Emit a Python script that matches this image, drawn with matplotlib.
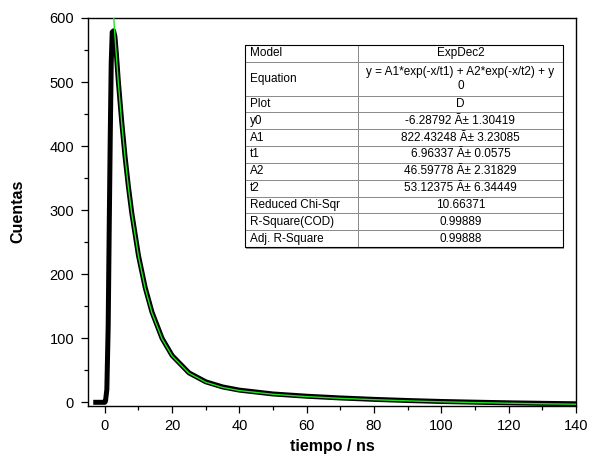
import matplotlib
matplotlib.use("Agg")
import matplotlib.pyplot as plt
from matplotlib.ticker import MultipleLocator
from matplotlib.table import Table
from matplotlib.patches import Rectangle

plt.rcParams["font.family"] = ["Liberation Sans", "DejaVu Sans"]

# ============================
# Data
# ============================
# measured decay (black)
t_data = [-2.7, -1.5, -0.5, 0.0, 0.2, 0.6, 1.0, 1.3, 1.6, 1.9, 2.2, 2.6, 3.0, 3.4,
          4.0, 5.0, 6.0, 7.0, 8.0, 10.0, 12.0, 14.0, 17.0, 20.0, 25.0, 30.0, 35.0,
          40.0, 50.0, 60.0, 70.0, 80.0, 90.0, 100.0, 110.0, 120.0, 130.0, 140.0]
counts_data = [0, 0, 0, 0, 2, 20, 120, 270, 410, 530, 578, 580, 571, 546,
               502, 439, 384, 337, 296, 229, 179, 141, 100, 73, 46, 32, 24,
               19, 13, 9.5, 6.8, 4.6, 2.8, 1.3, 0.2, -0.8, -1.6, -2.3]

# ExpDec2 fit (green)
t_fit = [2.0, 2.5, 3.0, 4.0, 5.0, 6.0, 7.0, 8.0, 10.0, 12.0, 14.0, 17.0, 20.0,
         25.0, 30.0, 35.0, 40.0, 50.0, 60.0, 70.0, 80.0, 90.0, 100.0, 110.0,
         120.0, 130.0, 140.0]
counts_fit = [655.8, 612.6, 572.3, 500.0, 437.2, 382.8, 335.6, 294.5, 227.9,
              177.7, 139.6, 99.1, 72.2, 45.5, 31.3, 23.2, 18.3, 12.5, 8.9, 6.2,
              4.1, 2.3, 0.8, -0.4, -1.4, -2.3, -3.0]

# fit report table
row_names = ["Model", "Equation", "Plot", "y0", "A1", "t1", "A2", "t2",
             "Reduced Chi-Sqr", "R-Square(COD)", "Adj. R-Square"]
row_values = ["ExpDec2",
              "y = A1*exp(-x/t1) + A2*exp(-x/t2) + y\n0",
              "D",
              "-6.28792 \u00c3\u00b1 1.30419",
              "822.43248 \u00c3\u00b1 3.23085",
              "6.96337 \u00c3\u00b1 0.0575",
              "46.59778 \u00c3\u00b1 2.31829",
              "53.12375 \u00c3\u00b1 6.34449",
              "10.66371",
              "0.99889",
              "0.99888"]

# ============================
# Figure
# ============================
fig = plt.figure(figsize=(5.91, 4.66), dpi=100)
ax = fig.add_axes([0.1489, 0.1298, 0.8257, 0.8316])

ax.plot(t_data, counts_data, color="black", lw=3.6, solid_joinstyle="round", zorder=2)
ax.plot(t_fit, counts_fit, color="#1fe31f", lw=1.0, zorder=3)

ax.set_xlim(-5, 140)
ax.set_ylim(-5, 600)
ax.xaxis.set_major_locator(MultipleLocator(20))
ax.xaxis.set_minor_locator(MultipleLocator(10))
ax.yaxis.set_major_locator(MultipleLocator(100))
ax.yaxis.set_minor_locator(MultipleLocator(50))
ax.tick_params(which="major", direction="out", length=5, width=0.9,
               labelsize=10.5, pad=5, top=False, right=False)
ax.tick_params(which="minor", direction="out", length=3, width=0.9,
               top=False, right=False)
for sp in ax.spines.values():
    sp.set_linewidth(1.0)

ax.set_xlabel("tiempo / ns", fontsize=11.5, fontweight="bold", labelpad=4)
ax.set_ylabel("Cuentas", fontsize=11.5, fontweight="bold", labelpad=17)

# --- fit table ---
tb_left, tb_bottom, tb_w, tb_h = 0.3217, 0.409, 0.6516, 0.5213
tb = Table(ax, bbox=[tb_left, tb_bottom, tb_w, tb_h])
col_w = [0.355, 0.645]
for r, (name, val) in enumerate(zip(row_names, row_values)):
    h = 2.0 if name == "Equation" else 1.0
    c0 = tb.add_cell(r, 0, col_w[0], h, text=name, loc="left")
    c1 = tb.add_cell(r, 1, col_w[1], h, text=val, loc="center")
    c0.PAD = 0.04
    c1.PAD = 0.01
    for c in (c0, c1):
        c.set_edgecolor("#8a8a8a")
        c.set_linewidth(0.7)
        c.get_text().set_multialignment("center")
tb.auto_set_font_size(False)
tb.set_fontsize(8.5)
tb.set_zorder(5)
ax.add_table(tb)

# shadow + outer frame
ax.add_patch(Rectangle((tb_left + 0.003, tb_bottom - 0.004), tb_w, tb_h,
                       transform=ax.transAxes, facecolor="#9a9a9a",
                       edgecolor="none", zorder=4))
ax.add_patch(Rectangle((tb_left, tb_bottom), tb_w, tb_h, transform=ax.transAxes,
                       facecolor="none", edgecolor="black", lw=0.8, zorder=6))

fig.savefig("out.png", dpi=100)
